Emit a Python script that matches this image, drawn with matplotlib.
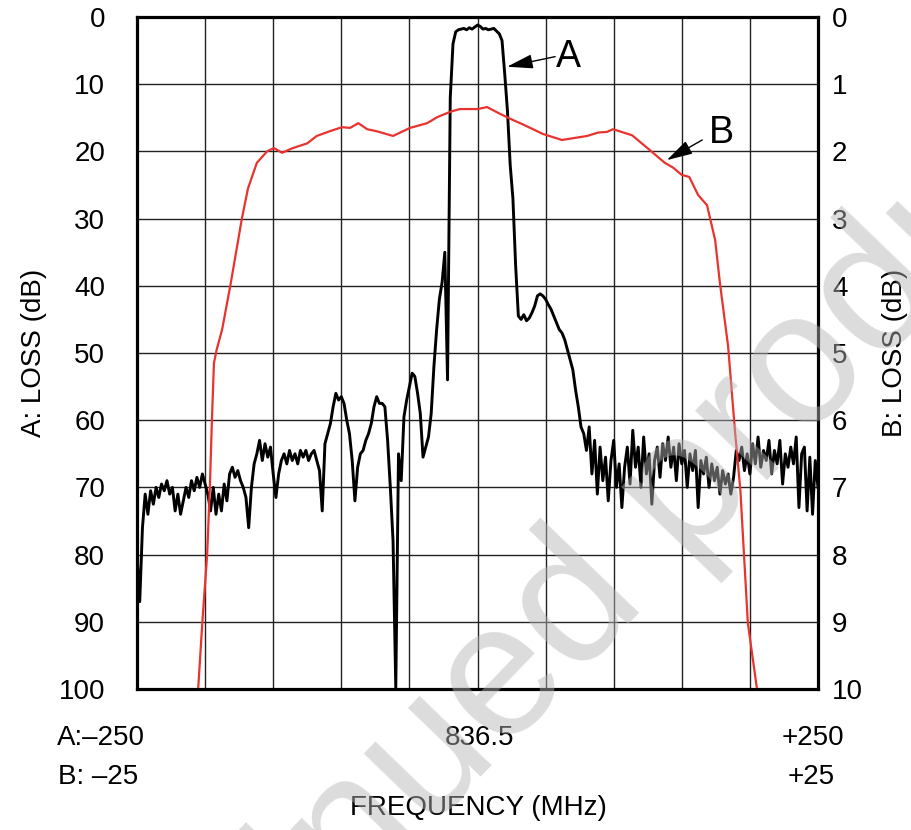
import numpy as np
import matplotlib
matplotlib.use("Agg")
from matplotlib import pyplot as plt

plt.rcParams['font.family'] = ['Liberation Sans', 'DejaVu Sans']
plt.rcParams['font.size'] = 20

# curve A: loss (dB) every 2 MHz from -250 to +250 MHz around 836.5
freq_a = np.arange(-250, 251, 2)
loss_a = [
    80, 87, 76, 71, 74, 70.5, 72.5, 70, 71.5, 69.5,
    70.5, 69, 71, 70, 73.5, 71, 74, 72, 70, 71.5,
    69, 70.5, 68.5, 70, 68, 69.5, 71, 73.5, 70, 74,
    71, 73.5, 69.5, 72, 68, 67, 68.5, 67.5, 69, 70,
    71.5, 76, 70, 66.5, 65, 63, 66, 63.5, 65.5, 64,
    68, 71.5, 68, 66, 65, 66.5, 64.5, 66, 65, 66.5,
    64.5, 65.5, 64.5, 66, 65, 64.5, 66, 67.5, 73.5, 63.5,
    62, 60.5, 58, 56, 57, 56.5, 57.5, 60, 62, 66,
    72, 67, 65, 64.5, 63, 62, 60.5, 58, 56.5, 57.5,
    57.5, 58, 63, 70, 78, 99.8, 65, 69, 59.5, 57,
    55, 53, 53.5, 56, 59, 65.5, 64, 62.5, 59, 52,
    46.5, 42, 39.5, 35, 54, 12, 4, 2.2, 1.9, 1.8,
    1.7, 1.9, 1.6, 1.8, 1.5, 1.2, 1.4, 1.8, 1.7, 1.9,
    1.8, 1.7, 2.1, 2.5, 3.5, 8.5, 14, 22, 27, 37,
    44.5, 45, 44.3, 45.2, 44.8, 44, 43, 41.5, 41.2, 41.5,
    42, 42.8, 43.5, 44.5, 45.5, 46.5, 47, 48, 49.5, 51,
    52.5, 55.5, 58, 61, 62, 64.5, 61, 68, 63, 71,
    64, 69, 65.5, 72, 66, 63, 70, 66.5, 73, 67,
    64, 69.5, 61.5, 67, 64, 70, 62.5, 68, 65, 72.5,
    66, 64, 68.5, 63.5, 66, 62.5, 67, 64, 69, 63.5,
    66.5, 64.5, 70, 65, 67.5, 64.5, 73, 66, 68, 65.5,
    70, 66.5, 69, 67, 71, 67.5, 69.5, 68, 71, 68.5,
    64.5, 66, 64, 67.5, 65, 68, 63.5, 66.5, 62.5, 67,
    64.5, 66, 63, 68, 64.5, 66.5, 63, 69.5, 65, 67,
    64, 66.5, 62.5, 73, 65, 64, 73.5, 65.5, 74, 66, 70,
]

# curve B: loss (dB) vs offset (MHz), span -25..+25
freq_b = [-20.5, -20.2, -19.85, -19.65, -19.5, -19.35, -19.15, -18.75, -18.15,
          -17.3, -16.85, -16.2, -15.45, -14.95, -14.35, -13.55, -12.5, -11.8,
          -10.85, -9.95, -9.35, -8.75, -8.1, -7.4, -6.2, -4.95, -3.7, -2.95,
          -2.0, -1.3, 0.0, 0.7, 1.45, 2.15, 2.9, 3.35, 4.8, 6.2, 8.05, 8.85,
          9.5, 9.95, 11.35, 12.65, 13.75, 14.35, 15.0, 15.55, 16.2, 16.85,
          17.45, 17.8, 18.4, 18.9, 19.3, 19.85, 20.5]
loss_b = [9.97, 9.0, 8.0, 7.0, 6.0, 5.15, 4.95, 4.65, 4.0,
          3.0, 2.55, 2.17, 2.0, 1.95, 2.02, 1.95, 1.88, 1.77,
          1.7, 1.64, 1.65, 1.58, 1.67, 1.7, 1.77, 1.65, 1.58, 1.49,
          1.41, 1.37, 1.37, 1.34, 1.42, 1.49, 1.56, 1.6, 1.74, 1.83, 1.77, 1.72,
          1.71, 1.67, 1.76, 1.98, 2.17, 2.24, 2.35, 2.38, 2.65, 2.8,
          3.32, 3.96, 4.9, 6.15, 7.04, 9.02, 9.97]

a_ticks = np.arange(0, 101, 10)
b_ticks = np.arange(0, 11, 1)

fig = plt.figure(figsize=(9.11, 8.3), dpi=100)
rect = [137 / 911, 1 - 689 / 830, 681 / 911, 672 / 830]
ax = fig.add_axes(rect)
ax.set_xlim(-250, 250)
ax.set_ylim(100, 0)
ax.set_xticks(np.arange(-250, 251, 50))
ax.set_xticklabels([])
ax.set_yticks(a_ticks)
ax.set_yticklabels([str(t) for t in a_ticks])
ax.tick_params(length=0, labelsize=20)
ax.tick_params(axis='y', pad=23)
ax.grid(True, color='#222222', lw=1.0)
for s in ax.spines.values():
    s.set_linewidth(2.3)
ax.plot(freq_a, loss_a, color='black', lw=2.1, zorder=3)

axb = fig.add_axes(rect, frameon=False)
axb.set_xlim(-25, 25)
axb.set_ylim(10, 0)
axb.xaxis.set_visible(False)
axb.yaxis.tick_right()
axb.yaxis.set_label_position('right')
axb.set_yticks(b_ticks)
axb.set_yticklabels([str(t) for t in b_ticks])
axb.tick_params(length=0, labelsize=20, pad=10)
axb.plot(freq_b, loss_b, color='#e8332e', lw=1.6, zorder=4)

# curve labels with arrows
arrow = dict(arrowstyle='-|>,head_length=0.8,head_width=0.22', color='black',
             lw=1.0, mutation_scale=20, shrinkA=0, shrinkB=0)
ax.annotate('', xy=(21.7, 7.4), xytext=(57, 5.9), arrowprops=arrow)
ax.text(67, 6.0, 'A', fontsize=27, ha='center', va='center')
axb.annotate('', xy=(13.9, 2.13), xytext=(16.5, 1.83), arrowprops=arrow)
axb.text(17.9, 1.72, 'B', fontsize=27, ha='center', va='center')

ax.set_ylabel('A: LOSS (dB)', fontsize=20, labelpad=8)
axb.set_ylabel('B: LOSS (dB)', fontsize=20, labelpad=14)

# frequency axis labels
fig.text(101 / 911, 1 - 738 / 830, 'A:\u2013250', ha='center', va='center', fontsize=20)
fig.text(479 / 911, 1 - 738 / 830, '836.5', ha='center', va='center', fontsize=20)
fig.text(813 / 911, 1 - 738 / 830, '+250', ha='center', va='center', fontsize=20)
fig.text(98 / 911, 1 - 777 / 830, 'B: \u201325', ha='center', va='center', fontsize=20)
fig.text(811 / 911, 1 - 777 / 830, '+25', ha='center', va='center', fontsize=20)
fig.text(478 / 911, 1 - 808 / 830, 'FREQUENCY (MHz)', ha='center', va='center', fontsize=20)

# watermark
fig.text(505 / 911, 1 - 752 / 830, 'Discontinued product', fontsize=137,
         rotation=46, rotation_mode='anchor', ha='center', va='baseline',
         color='#b5b5b5', alpha=0.47, zorder=10)

fig.savefig('out.png', dpi=100)
